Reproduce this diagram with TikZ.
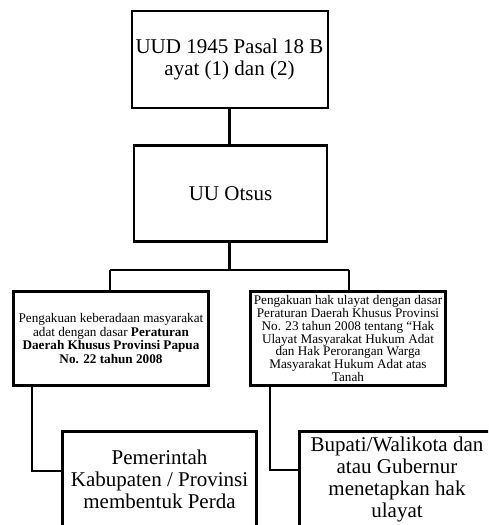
\documentclass[tikz,border=0pt]{standalone}
\usepackage{fontspec}
\setmainfont{Liberation Serif}
\begin{document}
\begin{tikzpicture}[x=1pt, y=-1pt,
  box/.style={draw, line width=2.8pt, rectangle, align=center, inner sep=0pt},
  bigtext/.style={font=\fontsize{21}{22}\selectfont},
  smalltext/.style={font=\fontsize{13.2}{13.4}\selectfont},
  tinytext/.style={font=\fontsize{13.2}{12.7}\selectfont},
  link/.style={line width=2.8pt}]
\useasboundingbox (0,0) rectangle (488,525);
\clip (0,0) rectangle (488,525);

% top of the chart
\node[box, line width=2pt, bigtext, minimum width=196pt, minimum height=97pt]
  (uud) at (229.5,59.5) {UUD 1945 Pasal 18 B\\ayat (1) dan (2)};
\node[box, bigtext, minimum width=193pt, minimum height=96pt]
  (otsus) at (230.5,193.5) {UU Otsus};

% second level
\node[box, smalltext, minimum width=195pt, minimum height=94pt]
  (adat) at (111,338.5)
  {Pengakuan keberadaan masyarakat\\adat dengan dasar \textbf{Peraturan}\\
   \textbf{Daerah Khusus Provinsi Papua}\\\textbf{No. 22 tahun 2008}};
\node[box, tinytext, minimum width=195pt, minimum height=94pt]
  (ulayat) at (348,338.5)
  {Pengakuan hak ulayat dengan dasar\\Peraturan Daerah Khusus Provinsi\\
   No. 23 tahun 2008 tentang “Hak\\Ulayat Masyarakat Hukum Adat\\
   dan Hak Perorangan Warga\\Masyarakat Hukum Adat atas\\Tanah};

% third level
\node[box, bigtext, minimum width=194pt, minimum height=95pt]
  (perda) at (159.5,479)
  {Pemerintah\\Kabupaten / Provinsi\\membentuk Perda};
\node[box, bigtext, minimum width=195pt, minimum height=95pt]
  (bupati) at (397,479)
  {Bupati/Walikota dan\\atau Gubernur\\menetapkan hak\\ulayat};

% branch points
\coordinate (split) at (229.5,270);
\coordinate (splitL) at (110,270);
\coordinate (splitR) at (349,270);
\coordinate (dropL) at (32,471);
\coordinate (dropR) at (270,470);

% connectors
\draw[link] (uud.south) -- (uud.south |- otsus.north);
\draw[link] (otsus.south -| split) -- (split);
\draw[link] (splitL) -- (splitR);
\draw[link] (splitL) -- (splitL |- adat.north);
\draw[link] (splitR) -- (splitR |- ulayat.north);
\draw[link] (dropL |- adat.south) -- (dropL) -- (dropL -| perda.west);
\draw[link] (dropR |- ulayat.south) -- (dropR) -- (dropR -| bupati.west);
\end{tikzpicture}
\end{document}
